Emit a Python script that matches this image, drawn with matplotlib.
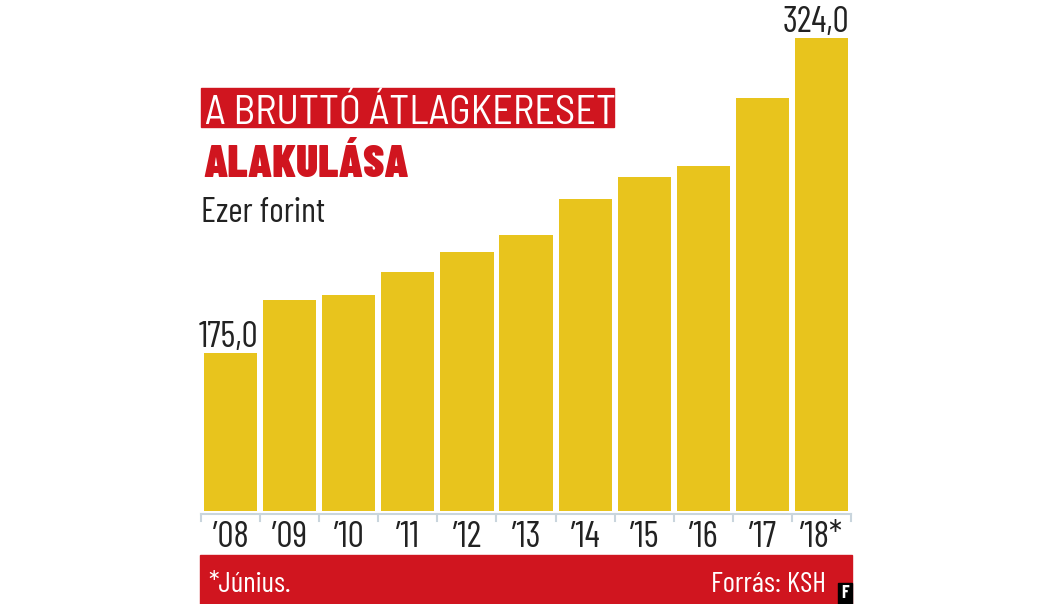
import matplotlib.pyplot as plt
from matplotlib.patches import Rectangle

# adatok
years = ["’08", "’09", "’10", "’11", "’12", "’13", "’14", "’15", "’16", "’17", "’18*"]
values = [175.0, 200.0, 202.3, 213.2, 222.6, 230.7, 247.8, 258.2, 263.4, 295.6, 324.0]
labels = {0: "175,0", 10: "324,0"}

RED = '#d0151f'
YELLOW = '#e8c41d'
DARK = '#222222'
AXIS = '#c9d5dd'

plt.rcParams['font.family'] = ['Barlow Condensed', 'DejaVu Sans']
SEMI = ['Barlow Semi Condensed', 'Barlow Condensed', 'DejaVu Sans']

W, H = 1052, 604
fig = plt.figure(figsize=(W / 100, H / 100), dpi=100)


def fy(px):
    # pixel sor (felulrol) -> figura koordinata
    return (H - px) / H


# tengely pixelben: bal 201, jobb 851, alap 511, 324 -> 38
ax = fig.add_axes([201 / W, fy(511), 650 / W, (511 - 38) / H])
x = range(len(values))
ax.bar(x, values, width=0.9, color=YELLOW, zorder=2)
ax.set_xlim(-0.5, len(values) - 0.5)
ax.set_ylim(100, 324)
ax.axis('off')

# ertek cimkek
for i, txt in labels.items():
    ax.text(i + 0.47, values[i] + 2.7, txt, ha='right', va='baseline', fontsize=26,
            color=DARK, clip_on=False)

# x tengely vonal es osztasok (pixel alapon)
axis_y = fy(514)
fig.add_artist(plt.Line2D([201 / W, 851 / W], [axis_y, axis_y], color=AXIS, lw=1.5))
for i in range(len(values) + 1):
    bx = (201 + i * 650 / len(values)) / W
    fig.add_artist(plt.Line2D([bx, bx], [axis_y, fy(521)], color=AXIS, lw=1.5))
for i, y in enumerate(years):
    fig.text((201 + (i + 0.5) * 650 / len(values)) / W, fy(547), y, ha='center',
             va='baseline', fontsize=26, color=DARK)

# cim
fig.patches.append(Rectangle((201 / W, fy(127)), 413 / W, 39 / H,
                             transform=fig.transFigure, color=RED))
fig.text(205 / W, fy(124), "A BRUTTÓ ÁTLAGKERESET", color='white',
         fontsize=29, family=SEMI, va='baseline', ha='left')
fig.text(203 / W, fy(177), "ALAKULÁSA", color=RED, fontsize=33,
         fontweight='black', va='baseline', ha='left')
fig.text(201 / W, fy(222), "Ezer forint", color=DARK, fontsize=25,
         va='baseline', ha='left')

# lablec
fig.patches.append(Rectangle((200 / W, 0), 652 / W, 49 / H,
                             transform=fig.transFigure, color=RED))
fig.text(208 / W, fy(592), "*Június.", color='white', fontsize=21,
         va='baseline', ha='left')
fig.text(826 / W, fy(592), "Forrás: KSH", color='white', fontsize=21,
         va='baseline', ha='right')
fig.patches.append(Rectangle((838 / W, 0), 14 / W, 21 / H,
                             transform=fig.transFigure, color='black'))
fig.text(845 / W, 10 / H, "F", color='white', fontsize=13, fontweight='bold',
         va='center', ha='center')

fig.savefig('out.png', dpi=100)
